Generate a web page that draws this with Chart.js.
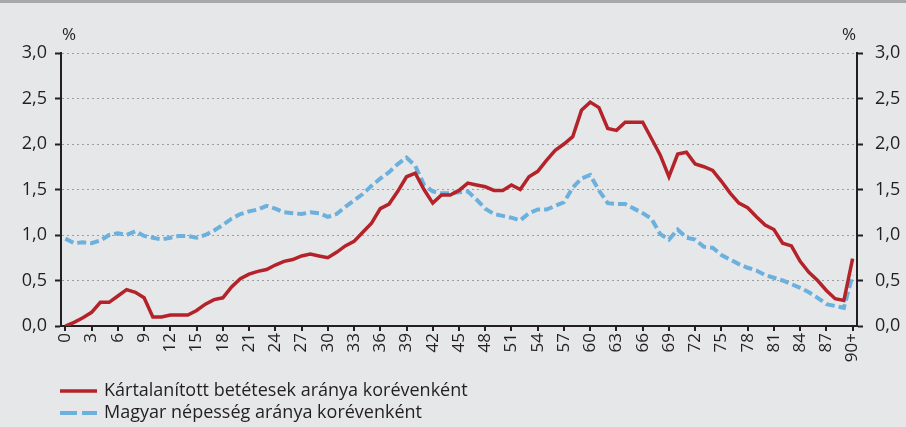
<!DOCTYPE html>
<html>
<head>
<meta charset="utf-8">
<script src="https://cdn.jsdelivr.net/npm/chart.js@4/dist/chart.umd.min.js"></script>
<style>
  html, body { margin: 0; padding: 0; background: #e6e7e9; }
  canvas { display: block; }
</style>
</head>
<body>
<canvas id="chart" width="906" height="427"></canvas>
<script>
/* DATA */
const ages = [];
for (let a = 0; a < 90; a++) ages.push(String(a));
ages.push("90+");

const seriesNames = [
  "Kártalanított betétesek aránya korévenként",
  "Magyar népesség aránya korévenként"
];

// kártalanított betétesek aránya (%), 0..90+
const kartalanitott = [
  0.00, 0.04, 0.09, 0.15, 0.26, 0.26, 0.33, 0.40, 0.37, 0.31,
  0.10, 0.10, 0.12, 0.12, 0.12, 0.17, 0.24, 0.29, 0.31, 0.43,
  0.52, 0.57, 0.60, 0.62, 0.67, 0.71, 0.73, 0.77, 0.79, 0.77,
  0.75, 0.81, 0.88, 0.93, 1.03, 1.13, 1.29, 1.34, 1.48, 1.64,
  1.68, 1.50, 1.35, 1.44, 1.44, 1.49, 1.57, 1.55, 1.53, 1.49,
  1.49, 1.55, 1.50, 1.64, 1.70, 1.82, 1.93, 2.00, 2.08, 2.37,
  2.46, 2.40, 2.17, 2.15, 2.24, 2.24, 2.24, 2.06, 1.88, 1.64,
  1.89, 1.91, 1.78, 1.75, 1.71, 1.59, 1.46, 1.35, 1.30, 1.20,
  1.11, 1.06, 0.91, 0.88, 0.71, 0.59, 0.50, 0.39, 0.30, 0.28,
  0.74
];

// magyar népesség aránya (%), 0..90+
const nepesseg = [
  0.96, 0.91, 0.92, 0.91, 0.94, 1.00, 1.02, 1.00, 1.04, 0.99,
  0.97, 0.95, 0.97, 0.99, 0.99, 0.97, 1.00, 1.05, 1.11, 1.18,
  1.23, 1.26, 1.28, 1.32, 1.29, 1.25, 1.24, 1.23, 1.25, 1.24,
  1.20, 1.23, 1.31, 1.38, 1.45, 1.54, 1.62, 1.69, 1.78, 1.85,
  1.76, 1.55, 1.48, 1.46, 1.46, 1.47, 1.48, 1.39, 1.29, 1.23,
  1.21, 1.19, 1.16, 1.24, 1.28, 1.28, 1.32, 1.36, 1.52, 1.62,
  1.66, 1.49, 1.35, 1.34, 1.34, 1.29, 1.24, 1.18, 1.01, 0.95,
  1.06, 0.97, 0.95, 0.87, 0.86, 0.78, 0.73, 0.68, 0.64, 0.61,
  0.56, 0.53, 0.50, 0.46, 0.42, 0.37, 0.31, 0.24, 0.22, 0.20,
  0.56
];

const yMin = 0, yMax = 3, yStep = 0.5;

/* STYLE */
const FONT = "'Open Sans', 'DejaVu Sans', sans-serif";
const TEXT = "#231f20";
const RED = "#b4232a";
const BLUE = "#6cb0de";

const fmt = v => v.toFixed(1).replace(".", ",");

/* background + % labels + legend */
const decor = {
  id: "decor",
  beforeDraw(chart){
    const c = chart.ctx;
    c.save();
    c.fillStyle = "#e6e7e9";
    c.fillRect(0, 0, chart.width, chart.height);
    c.fillStyle = "#a7a8aa";
    c.fillRect(0, 0, chart.width, 3);
    c.restore();
  },
  afterDraw(chart){
    const c = chart.ctx;
    const a = chart.chartArea;
    c.save();
    c.fillStyle = TEXT;
    c.font = "17px " + FONT;
    c.textAlign = "center";
    c.textBaseline = "middle";
    c.fillText("%", a.left + 8, a.top - 18);
    c.fillText("%", a.right - 8, a.top - 18);

    // legend, one row per series
    c.font = "18px " + FONT;
    c.textAlign = "left";
    chart.data.datasets.forEach((ds, i) => {
      const y = a.bottom + 65 + i * 22;
      c.beginPath();
      c.strokeStyle = ds.borderColor;
      c.lineWidth = ds.borderWidth;
      c.setLineDash(ds.borderDash ? [17, 5] : []);
      c.moveTo(a.left - 1, y);
      c.lineTo(a.left + 36, y);
      c.stroke();
      c.setLineDash([]);
      c.fillText(ds.label, a.left + 43, y);
    });
    c.restore();
  }
};

/* CHART */
new Chart(document.getElementById("chart"), {
  type: "line",
  data: {
    labels: ages,
    datasets: [
      {label: seriesNames[0], data: kartalanitott, borderColor: RED, borderWidth: 3.5,
       pointRadius: 0, tension: 0, yAxisID: "y"},
      {label: seriesNames[1], data: nepesseg, borderColor: BLUE, borderWidth: 4,
       borderDash: [9, 4], pointRadius: 0, tension: 0, yAxisID: "y"}
    ]
  },
  options: {
    responsive: false,
    animation: false,
    layout: {padding: {top: 53, bottom: 59, left: 0, right: 0}},
    plugins: {legend: {display: false}, tooltip: {enabled: false}},
    scales: {
      x: {
        offset: true,
        grid: {
          offset: false,
          drawOnChartArea: false,
          color: ctx => ctx.index % 3 === 0 ? TEXT : "transparent",
          lineWidth: 2,
          tickLength: 5
        },
        border: {color: TEXT, width: 2},
        ticks: {
          autoSkip: false, minRotation: 90, maxRotation: 90, padding: 2,
          color: TEXT, font: {family: FONT, size: 17},
          callback: (v, i) => i % 3 === 0 ? ages[i] : ""
        },
        afterFit: s => { s.height = 42; }
      },
      y: {
        position: "left",
        min: yMin, max: yMax,
        border: {color: TEXT, width: 2, dash: [2, 3]},
        grid: {
          color: ctx => ctx.tick && ctx.tick.value === 0 ? "transparent" : "#9c9d9f",
          lineWidth: 1,
          tickColor: TEXT, tickWidth: 2, tickLength: 6, tickBorderDash: []
        },
        ticks: {stepSize: yStep, padding: 8, color: TEXT, font: {family: FONT, size: 18}, callback: fmt},
        afterFit: s => { s.width = 61; }
      },
      y2: {
        position: "right",
        min: yMin, max: yMax,
        border: {color: TEXT, width: 2},
        grid: {drawOnChartArea: false, tickColor: TEXT, tickWidth: 2, tickLength: 6},
        ticks: {stepSize: yStep, padding: 12, color: TEXT, font: {family: FONT, size: 18}, callback: fmt},
        afterFit: s => { s.width = 49; }
      }
    }
  },
  plugins: [decor]
});
</script>
</body>
</html>
